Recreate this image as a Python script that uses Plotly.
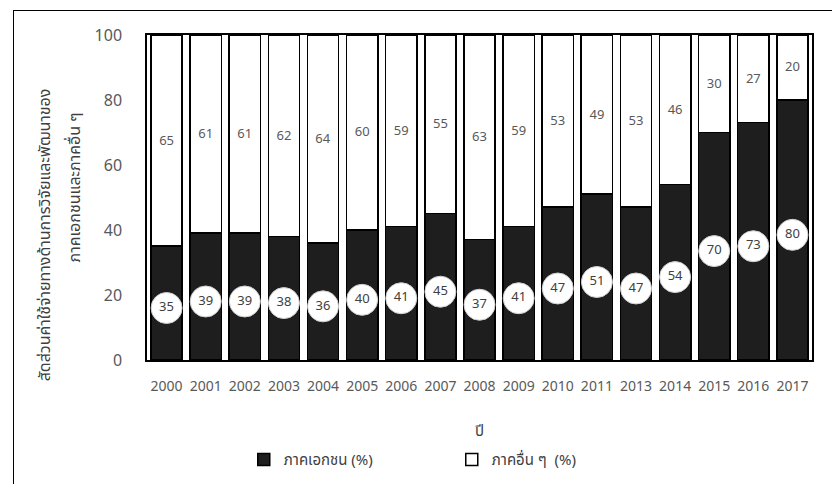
import plotly.graph_objects as go

years = ["2000", "2001", "2002", "2003", "2004", "2005", "2006", "2007", "2008",
         "2009", "2010", "2011", "2013", "2014", "2015", "2016", "2017"]
private_pct = [35, 39, 39, 38, 36, 40, 41, 45, 37, 41, 47, 51, 47, 54, 70, 73, 80]
other_pct = [65, 61, 61, 62, 64, 60, 59, 55, 63, 59, 53, 49, 53, 46, 30, 27, 20]
y_title_lines = ["สัดส่วนค่าใช้จ่ายทางด้านการวิจัยและพัฒนาของ", "ภาคเอกชนและภาคอื่น ๆ"]

FONT = "Tahoma, 'Noto Sans Thai', 'Noto Sans', 'DejaVu Sans', sans-serif"
TXT = "#595959"

fig = go.Figure()

fig.add_trace(go.Bar(
    x=years, y=private_pct, name="ภาคเอกชน (%)",
    marker=dict(color="#1e1e1e", line=dict(color="#000000", width=1.5)),
    hoverinfo="skip",
))
fig.add_trace(go.Bar(
    x=years, y=other_pct, name="ภาคอื่น ๆ  (%)",
    marker=dict(color="#ffffff", line=dict(color="#000000", width=1.5)),
    text=[str(v) for v in other_pct], textposition="inside",
    insidetextanchor="middle",
    textfont=dict(family=FONT, size=13, color=TXT),
    hoverinfo="skip",
))

# white circular badges with the private-sector share, inside the dark segment
fig.add_trace(go.Scatter(
    x=years, y=[v / 2 - 1.5 for v in private_pct], mode="markers+text",
    marker=dict(size=31, color="#ffffff", line=dict(color="#cfcfcf", width=1)),
    text=[str(v) for v in private_pct], textposition="middle center",
    textfont=dict(family=FONT, size=13, color="#404040"),
    showlegend=False, hoverinfo="skip",
))

# empty trace on a full-paper axis pair whose lines form the outer chart frame
fig.add_trace(go.Scatter(x=[], y=[], xaxis="x2", yaxis="y2",
                         showlegend=False, hoverinfo="skip"))

# two-line rotated y-axis title, anchored at the start of each line
title_font = dict(family=FONT, size=16, color="#404040")
annotations = [
    dict(text=y_title_lines[0], textangle=-90, xref="paper", yref="paper",
         x=0.038, y=0.212, xanchor="center", yanchor="bottom",
         showarrow=False, font=title_font),
    dict(text=y_title_lines[1], textangle=-90, xref="paper", yref="paper",
         x=0.075, y=0.465, xanchor="center", yanchor="bottom",
         showarrow=False, font=title_font),
]

fig.update_layout(
    barmode="stack", bargap=0.2,
    width=832, height=484,
    # the paper starts at the outer chart frame; the plot sits inside via domains
    margin=dict(l=14, r=0, t=11, b=0, autoexpand=False),
    paper_bgcolor="white", plot_bgcolor="rgba(0,0,0,0)",
    font=dict(family=FONT, size=13, color=TXT),
    showlegend=True,
    legend=dict(orientation="h", xref="container", yref="container",
                x=0.543, xanchor="center", y=0.05, yanchor="middle",
                font=dict(family=FONT, size=15, color="#404040"),
                entrywidth=163, traceorder="normal"),
    xaxis=dict(type="category", range=[-0.5, 16.5], domain=[0.1626, 0.9756],
               showline=True, linecolor="#000",
               linewidth=1.5, mirror=True, ticks="", showgrid=False, automargin=False,
               ticklabelstandoff=12,
               tickfont=dict(family=FONT, size=14, color=TXT),
               title=dict(text="ปี", standoff=30,
                          font=dict(family=FONT, size=15, color="#404040"))),
    yaxis=dict(range=[0, 100], tickvals=[0, 20, 40, 60, 80, 100], domain=[0.2622, 0.9493],
               showline=True, linecolor="#000", linewidth=1.5, mirror=True,
               showgrid=False, zeroline=False, ticks="", ticklabelstandoff=20,
               automargin=False, tickfont=dict(family=FONT, size=16, color=TXT)),
    xaxis2=dict(domain=[0, 1], anchor="y2", side="top", range=[0, 1],
                showline=True, linecolor="#000", linewidth=1.2, showgrid=False,
                zeroline=False, showticklabels=False, ticks="", automargin=False,
                fixedrange=True),
    yaxis2=dict(domain=[0, 1], anchor="x2", side="left", range=[0, 1],
                showline=True, linecolor="#000", linewidth=1.2, showgrid=False,
                zeroline=False, showticklabels=False, ticks="", automargin=False,
                fixedrange=True),
    annotations=annotations,
)

fig.write_html("out.html")
